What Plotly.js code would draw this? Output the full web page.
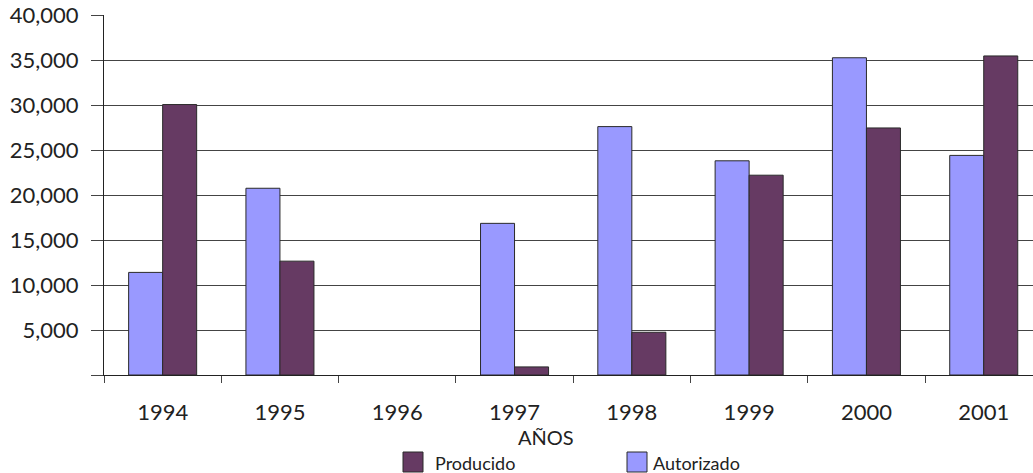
<!DOCTYPE html>
<html>
<head>
<meta charset="utf-8">
<script src="https://cdn.plot.ly/plotly-3.0.1.min.js"></script>
<style>html,body{margin:0;padding:0;background:#fff;}#chart{width:1033px;height:473px;}</style>
</head>
<body>
<div id="chart"></div>
<script>
const years = ['1994', '1995', '1996', '1997', '1998', '1999', '2000', '2001'];
const autorizado = [11400, 20750, null, 16850, 27600, 23800, 35250, 24400];
const producido = [30050, 12650, null, 900, 4750, 22200, 27450, 35450];
const seriesNames = ['Producido', 'Autorizado'];
const axisTitle = 'AÑOS';
const yTicks = [0, 5000, 10000, 15000, 20000, 25000, 30000, 35000, 40000];
const yTickText = ['', '5,000', '10,000', '15,000', '20,000', '25,000', '30,000', '35,000', '40,000'];

const colA = '#9999ff';
const colP = '#663a63';
const fontFam = 'Lato, "DejaVu Sans", sans-serif';

const traces = [
  {type: 'bar', name: seriesNames[1], x: years, y: autorizado,
   marker: {color: colA, line: {color: '#2a2a2a', width: 1}}, hoverinfo: 'x+y+name'},
  {type: 'bar', name: seriesNames[0], x: years, y: producido,
   marker: {color: colP, line: {color: '#2a2a2a', width: 1}}, hoverinfo: 'x+y+name'}
];

const layout = {
  width: 1033, height: 473,
  margin: {l: 104, r: 0, t: 15, b: 98},
  paper_bgcolor: '#fff', plot_bgcolor: '#fff',
  barmode: 'group', bargap: 0.42, bargroupgap: 0,
  showlegend: false,
  font: {family: fontFam, color: '#222', size: 22},
  xaxis: {
    type: 'category', range: [-0.5, 7.42],
    showline: true, linecolor: '#222', linewidth: 1,
    ticks: 'outside', tickson: 'boundaries', ticklen: 7, tickcolor: '#444',
    ticklabelstandoff: 18,
    showgrid: false, tickfont: {size: 22, color: '#222'}, fixedrange: true
  },
  yaxis: {
    range: [0, 40000], tickvals: yTicks, ticktext: yTickText,
    showline: true, linecolor: '#222', linewidth: 1,
    ticks: 'outside', ticklen: 12, tickcolor: '#444',
    ticklabelstandoff: 8,
    showgrid: true, gridcolor: '#444', gridwidth: 1,
    zeroline: false, tickfont: {size: 22, color: '#222'}, fixedrange: true
  },
  annotations: [
    {text: axisTitle, xref: 'paper', yref: 'paper', x: 0.4758, y: (375 - 437) / 360,
     xanchor: 'center', yanchor: 'middle', showarrow: false, font: {size: 20, color: '#222'}},
    {text: seriesNames[0], xref: 'paper', yref: 'paper', x: (433 - 104) / 929, y: (375 - 463) / 360,
     xanchor: 'left', yanchor: 'middle', showarrow: false, font: {size: 18, color: '#222'}},
    {text: seriesNames[1], xref: 'paper', yref: 'paper', x: (651 - 104) / 929, y: (375 - 463) / 360,
     xanchor: 'left', yanchor: 'middle', showarrow: false, font: {size: 18, color: '#222'}}
  ],
  shapes: [
    {type: 'rect', xref: 'paper', yref: 'paper', x0: (403 - 104) / 929, x1: (423 - 104) / 929,
     y0: (375 - 452) / 360, y1: (375 - 472) / 360,
     fillcolor: colP, line: {color: '#2a2a2a', width: 1}},
    {type: 'rect', xref: 'paper', yref: 'paper', x0: (627 - 104) / 929, x1: (647 - 104) / 929,
     y0: (375 - 452) / 360, y1: (375 - 472) / 360,
     fillcolor: colA, line: {color: '#2a2a2a', width: 1}}
  ]
};

Plotly.newPlot('chart', traces, layout, {displayModeBar: false});
</script>
</body>
</html>
